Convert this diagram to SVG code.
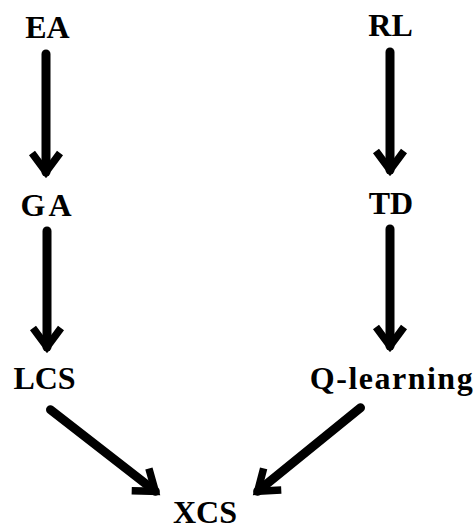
<svg xmlns="http://www.w3.org/2000/svg" width="476" height="531" viewBox="0 0 476 531">
  <style>
    .label { font-family: "Liberation Serif", "Times New Roman", serif; font-weight: bold; font-size: 32px; fill: #000; text-anchor: middle; }
    .edge { stroke: #000; stroke-width: 9; stroke-linecap: round; fill: none; }
  </style>
  <defs>
    <marker id="chevron" markerUnits="userSpaceOnUse" viewBox="-30 -20 40 40" markerWidth="40" markerHeight="40" refX="0" refY="0" orient="auto" overflow="visible">
      <path d="M-19,-14 L0,0 L-19,14" fill="none" stroke="#000" stroke-width="7.5" stroke-linejoin="miter" stroke-miterlimit="10"/>
    </marker>
  </defs>

  <rect width="476" height="531" fill="#fff"/>

  <g id="connectors">
    <line class="edge" x1="46" y1="54" x2="46" y2="172" marker-end="url(#chevron)"/>
    <line class="edge" x1="390" y1="52" x2="390" y2="170" marker-end="url(#chevron)"/>
    <line class="edge" x1="47" y1="231" x2="47" y2="347" marker-end="url(#chevron)"/>
    <line class="edge" x1="390" y1="229" x2="390" y2="346" marker-end="url(#chevron)"/>
    <line class="edge" x1="50.5" y1="409.8" x2="155.3" y2="491.3" marker-end="url(#chevron)"/>
    <line class="edge" x1="360.5" y1="407.8" x2="257.7" y2="491.2" marker-end="url(#chevron)"/>
  </g>

  <g id="node-ea"><text class="label" x="47.5" y="38">EA</text></g>
  <g id="node-rl"><text class="label" x="390.5" y="36">RL</text></g>
  <g id="node-ga"><text class="label" x="47.5" y="216" letter-spacing="3">GA</text></g>
  <g id="node-td"><text class="label" x="391" y="214">TD</text></g>
  <g id="node-lcs"><text class="label" x="44.5" y="389">LCS</text></g>
  <g id="node-qlearning"><text class="label" x="392" y="389" letter-spacing="1.5">Q-learning</text></g>
  <g id="node-xcs"><text class="label" x="205" y="523">XCS</text></g>
</svg>
